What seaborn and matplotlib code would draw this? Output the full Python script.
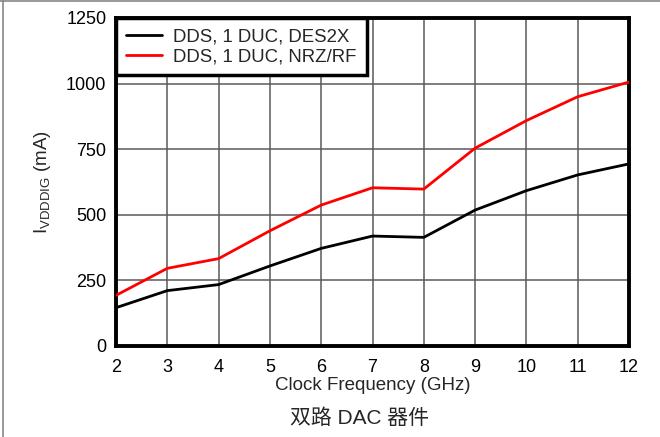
import numpy as np
import pandas as pd
import matplotlib
matplotlib.use("Agg")
import matplotlib.pyplot as plt
import seaborn as sns
from matplotlib.lines import Line2D

clock_ghz = [2, 3, 4, 5, 6, 7, 8, 9, 10, 11, 12]
des2x_ma = [146, 211, 234, 305, 372, 419, 414, 518, 592, 652, 694]
nrzrf_ma = [193, 296, 333, 439, 537, 603, 598, 754, 859, 950, 1006]
series_names = ["DDS, 1 DUC, DES2X", "DDS, 1 DUC, NRZ/RF"]
series_colors = ["#000000", "#ff0000"]
y_ticks = [0, 250, 500, 750, 1000, 1250]

sns.set_style("white")
plt.rcParams["font.family"] = ["Liberation Sans", "Noto Sans CJK SC", "DejaVu Sans"]
plt.rcParams["mathtext.fontset"] = "custom"
plt.rcParams["mathtext.rm"] = "Liberation Sans"

df = pd.DataFrame({
    "clock": clock_ghz * 2,
    "current": des2x_ma + nrzrf_ma,
    "series": [series_names[0]] * len(clock_ghz) + [series_names[1]] * len(clock_ghz),
})

fig = plt.figure(figsize=(6.6, 4.37), dpi=100)
ax = fig.add_axes([116 / 660, 1 - 346 / 437, (629 - 116) / 660, (346 - 18) / 437])

sns.lineplot(data=df, x="clock", y="current", hue="series",
             palette=dict(zip(series_names, series_colors)),
             linewidth=2.0, ax=ax, legend=False, zorder=3)

ax.set_xlim(2, 12)
ax.set_ylim(0, 1250)
ax.set_xticks(clock_ghz)
ax.set_yticks(y_ticks)
ax.grid(True, color="#5a5a5a", linewidth=1.1, zorder=0)
ax.set_axisbelow(True)
ax.tick_params(axis="x", labelsize=13, length=0, pad=9, colors="black")
ax.tick_params(axis="y", labelsize=13, length=0, pad=7, colors="black")
for s in ax.spines.values():
    s.set_visible(True)
    s.set_linewidth(2.8)
    s.set_color("black")

ax.set_xlabel("Clock Frequency (GHz)", fontsize=13.5, labelpad=1)
ax.set_ylabel(r"I$_{\mathregular{VDDDIG}}$ (mA)", fontsize=13.5, labelpad=9)

handles = [Line2D([], [], color=c, linewidth=2.0) for c in series_colors]
leg = ax.legend(handles, series_names, loc="upper left", fontsize=13.4,
                frameon=True, fancybox=False, borderaxespad=0.0,
                handlelength=1.9, handletextpad=0.6, borderpad=0.55,
                labelspacing=0.15)
leg.get_frame().set_edgecolor("black")
leg.get_frame().set_linewidth(2.5)
leg.get_frame().set_alpha(1)
leg.set_zorder(5)

fig.text(359 / 660, 1 - 418 / 437, "双路 DAC 器件", ha="center", va="center", fontsize=15)

# thin frame along the top and left edges of the figure
fig.add_artist(Line2D([3 / 660, 3 / 660], [0, 1], color="#888888", linewidth=1.2, transform=fig.transFigure))
fig.add_artist(Line2D([0, 1], [1 - 0.8 / 437, 1 - 0.8 / 437], color="#888888", linewidth=1.2, transform=fig.transFigure))

fig.savefig("out.png", dpi=100)
